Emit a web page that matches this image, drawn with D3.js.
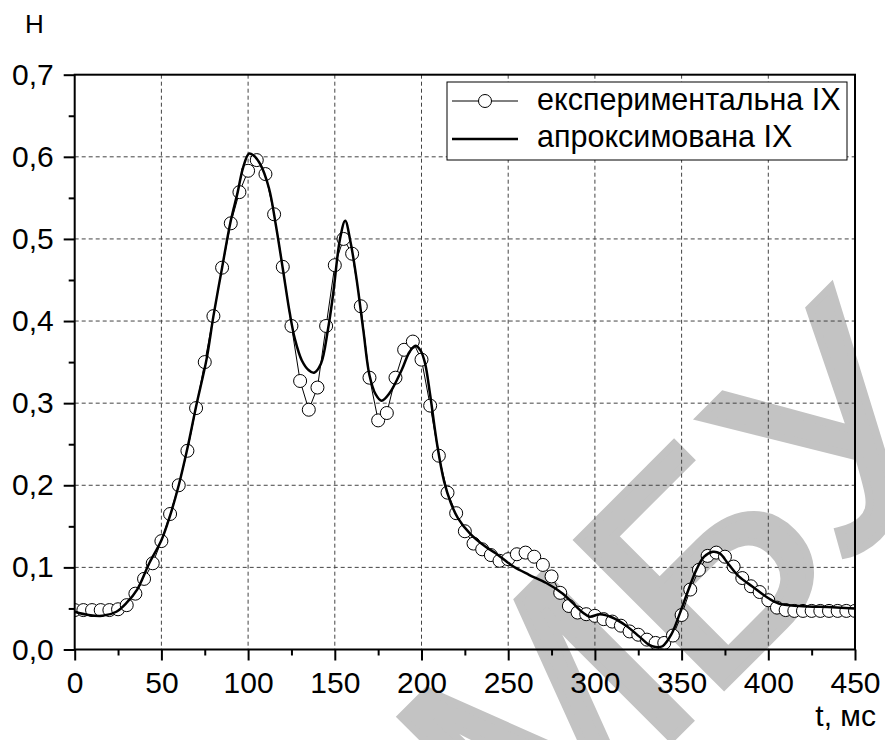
<!DOCTYPE html>
<html>
<head>
<meta charset="utf-8">
<style>
  body { margin: 0; background: #fff; }
  svg { font-family: "Liberation Sans", Arial, sans-serif; }
</style>
</head>
<body>
<script src="https://cdn.jsdelivr.net/npm/d3@7"></script>
<script>
  // experimental points (t, ms / H)
  var tExp = [0, 5, 10, 15, 20, 25, 30, 35, 40, 45,
              50, 55, 60, 65, 70, 75, 80, 85, 90, 95,
              100, 105, 110, 115, 120, 125, 130, 135, 140, 145,
              150, 155, 160, 165, 170, 175, 180, 185, 190, 195,
              200, 205, 210, 215, 220, 225, 230, 235, 240, 245,
              250, 255, 260, 265, 270, 275, 280, 285, 290, 295,
              300, 305, 310, 315, 320, 325, 330, 335, 340, 345,
              350, 355, 360, 365, 370, 375, 380, 385, 390, 395,
              400, 405, 410, 415, 420, 425, 430, 435, 440, 445, 450];
  var hExp = [0.048, 0.048, 0.048, 0.048, 0.048, 0.049, 0.054, 0.068, 0.086, 0.105,
              0.132, 0.165, 0.200, 0.242, 0.294, 0.350, 0.406, 0.465, 0.519, 0.557,
              0.583, 0.596, 0.579, 0.530, 0.466, 0.394, 0.327, 0.292, 0.319, 0.394,
              0.468, 0.500, 0.482, 0.418, 0.331, 0.279, 0.288, 0.331, 0.365, 0.375,
              0.353, 0.297, 0.236, 0.191, 0.166, 0.144, 0.129, 0.122, 0.115, 0.108,
              0.110, 0.116, 0.118, 0.113, 0.103, 0.089, 0.069, 0.053, 0.045, 0.043,
              0.041, 0.037, 0.034, 0.029, 0.022, 0.018, 0.012, 0.008, 0.008, 0.017,
              0.042, 0.073, 0.097, 0.114, 0.118, 0.113, 0.101, 0.087, 0.077, 0.070,
              0.060, 0.051, 0.048, 0.047, 0.047, 0.047, 0.047, 0.047, 0.047, 0.047, 0.047];

  // approximated curve
  var tFit = [0, 8, 16, 24, 30, 36, 43, 50, 55, 60, 65, 70, 76, 80, 85, 90, 94, 97, 100.5, 103,
              107, 112, 116, 120, 124, 127, 131, 135, 138, 142, 146, 149, 153, 156, 159, 162.5, 166.5, 170, 173.5, 177,
              181.5, 188.5, 193, 196.5, 199.5, 202, 205, 209, 213, 217, 221, 228, 237, 243, 253, 262, 272, 281.5, 287, 293,
              297, 303, 310, 318, 325.5, 331, 335, 339, 344, 349, 354, 358.5, 363, 368, 372, 377, 383, 391, 399, 406,
              418, 437, 450];
  var hFit = [0.046, 0.042, 0.041, 0.046, 0.057, 0.073, 0.105, 0.133, 0.163, 0.200, 0.245, 0.296, 0.353, 0.406, 0.465, 0.522, 0.557, 0.586, 0.604, 0.602,
              0.591, 0.562, 0.517, 0.464, 0.410, 0.378, 0.352, 0.340, 0.337, 0.348, 0.389, 0.432, 0.500, 0.522, 0.497, 0.452, 0.388, 0.334, 0.311, 0.303,
              0.312, 0.340, 0.362, 0.370, 0.364, 0.349, 0.310, 0.250, 0.205, 0.178, 0.160, 0.141, 0.125, 0.117, 0.101, 0.091, 0.081, 0.068, 0.057, 0.045,
              0.040, 0.043, 0.039, 0.029, 0.016, 0.006, 0.003, 0.004, 0.018, 0.044, 0.073, 0.097, 0.113, 0.119, 0.117, 0.104, 0.089, 0.0765, 0.064, 0.056,
              0.053, 0.0515, 0.050];

  var xTicks = [0, 50, 100, 150, 200, 250, 300, 350, 400, 450];
  var yTicks = [0, 0.1, 0.2, 0.3, 0.4, 0.5, 0.6, 0.7];
  var seriesNames = ["експериментальна IX", "апроксимована IX"];

  var width = 885, height = 740;
  var plot = {left: 74.7, right: 855, top: 74.7, bottom: 649.5};

  var x = d3.scaleLinear().domain([0, 450]).range([plot.left, plot.right]);
  var y = d3.scaleLinear().domain([0, 0.7]).range([plot.bottom, plot.top]);
  var fmt = function(d) { return d3.format(".1f")(d).replace(".", ","); };

  var svg = d3.select("body").append("svg")
      .attr("width", width)
      .attr("height", height);

  svg.append("rect").attr("width", width).attr("height", height).attr("fill", "#fff");

  // watermark
  svg.append("text")
     .attr("transform", "translate(530,880) rotate(-45)")
     .attr("font-size", 300)
     .attr("fill", "#c3c3c3")
     .attr("stroke", "#c3c3c3")
     .attr("stroke-width", 8)
     .text("МБУ");

  // grid
  var grid = svg.append("g").attr("stroke", "#444").attr("stroke-width", 1).attr("stroke-dasharray", "4,3");
  grid.selectAll(".gx").data(xTicks.slice(1, -1)).enter().append("line")
      .attr("x1", function(d) { return x(d); }).attr("x2", function(d) { return x(d); })
      .attr("y1", plot.top).attr("y2", plot.bottom);
  grid.selectAll(".gy").data(yTicks.slice(1, -1)).enter().append("line")
      .attr("y1", function(d) { return y(d); }).attr("y2", function(d) { return y(d); })
      .attr("x1", plot.left).attr("x2", plot.right);

  svg.append("clipPath").attr("id", "clip").append("rect")
     .attr("x", plot.left).attr("y", plot.top)
     .attr("width", plot.right - plot.left).attr("height", plot.bottom - plot.top);

  var expData = tExp.map(function(t, i) { return {t: t, h: hExp[i]}; });
  var fitData = tFit.map(function(t, i) { return {t: t, h: hFit[i]}; });

  var body = svg.append("g").attr("clip-path", "url(#clip)");

  body.append("path")
      .datum(expData)
      .attr("fill", "none")
      .attr("stroke", "#000")
      .attr("stroke-width", 1)
      .attr("d", d3.line().x(function(d) { return x(d.t); }).y(function(d) { return y(d.h); }));

  body.selectAll(".pt").data(expData).enter().append("circle")
      .attr("cx", function(d) { return x(d.t); })
      .attr("cy", function(d) { return y(d.h); })
      .attr("r", 6.5)
      .attr("fill", "#fff")
      .attr("stroke", "#000")
      .attr("stroke-width", 1);

  body.append("path")
      .datum(fitData)
      .attr("fill", "none")
      .attr("stroke", "#000")
      .attr("stroke-width", 2.5)
      .attr("d", d3.line().curve(d3.curveCatmullRom.alpha(0.5))
                  .x(function(d) { return x(d.t); }).y(function(d) { return y(d.h); }));

  // axes
  var xAxis = d3.axisBottom(x).tickValues(d3.range(0, 451, 25)).tickSize(6)
      .tickFormat(function(d) { return d % 50 === 0 ? d : ""; });
  var gx = svg.append("g").attr("transform", "translate(0," + plot.bottom + ")").call(xAxis);
  gx.selectAll(".tick line").attr("y2", function(d) { return d % 50 === 0 ? 11 : 6; });
  gx.selectAll(".tick text").attr("y", 22).attr("font-size", 30).attr("fill", "#000");

  var yAxis = d3.axisLeft(y).tickValues(d3.range(0, 0.71, 0.05)).tickSize(6)
      .tickFormat(function(d, i) { return i % 2 === 0 ? fmt(d) : ""; });
  var gy = svg.append("g").attr("transform", "translate(" + plot.left + ",0)").call(yAxis);
  gy.selectAll(".tick line").attr("x2", function(d, i) { return i % 2 === 0 ? -11 : -6; });
  gy.selectAll(".tick text").attr("x", -21).attr("font-size", 30).attr("fill", "#000");

  svg.selectAll(".domain").remove();
  [gx, gy].forEach(function(g) {
    g.selectAll(".tick line").attr("stroke", "#000").attr("stroke-width", 2);
  });
  gx.attr("font-family", null);
  gy.attr("font-family", null);

  // frame
  svg.append("rect")
     .attr("x", plot.left).attr("y", plot.top)
     .attr("width", plot.right - plot.left).attr("height", plot.bottom - plot.top)
     .attr("fill", "none").attr("stroke", "#000").attr("stroke-width", 2);

  // axis titles
  svg.append("text").attr("x", 25).attr("y", 33).attr("font-size", 26).text("H");
  svg.append("text").attr("x", 876).attr("y", 726).attr("font-size", 30)
     .attr("text-anchor", "end").text("t, мс");

  // legend
  var leg = svg.append("g");
  leg.append("rect").attr("x", 447).attr("y", 82).attr("width", 400).attr("height", 78)
     .attr("fill", "#fff").attr("stroke", "#000").attr("stroke-width", 1);
  leg.append("line").attr("x1", 452).attr("x2", 518).attr("y1", 101).attr("y2", 101)
     .attr("stroke", "#000").attr("stroke-width", 1);
  leg.append("circle").attr("cx", 485).attr("cy", 101).attr("r", 6.5)
     .attr("fill", "#fff").attr("stroke", "#000");
  leg.append("line").attr("x1", 452).attr("x2", 518).attr("y1", 139).attr("y2", 139)
     .attr("stroke", "#000").attr("stroke-width", 2.5);
  leg.selectAll(".lt").data(seriesNames).enter().append("text")
     .attr("x", 537)
     .attr("y", function(d, i) { return 110 + i * 37; })
     .attr("font-size", 30.5)
     .text(function(d) { return d; });
</script>
</body>
</html>
